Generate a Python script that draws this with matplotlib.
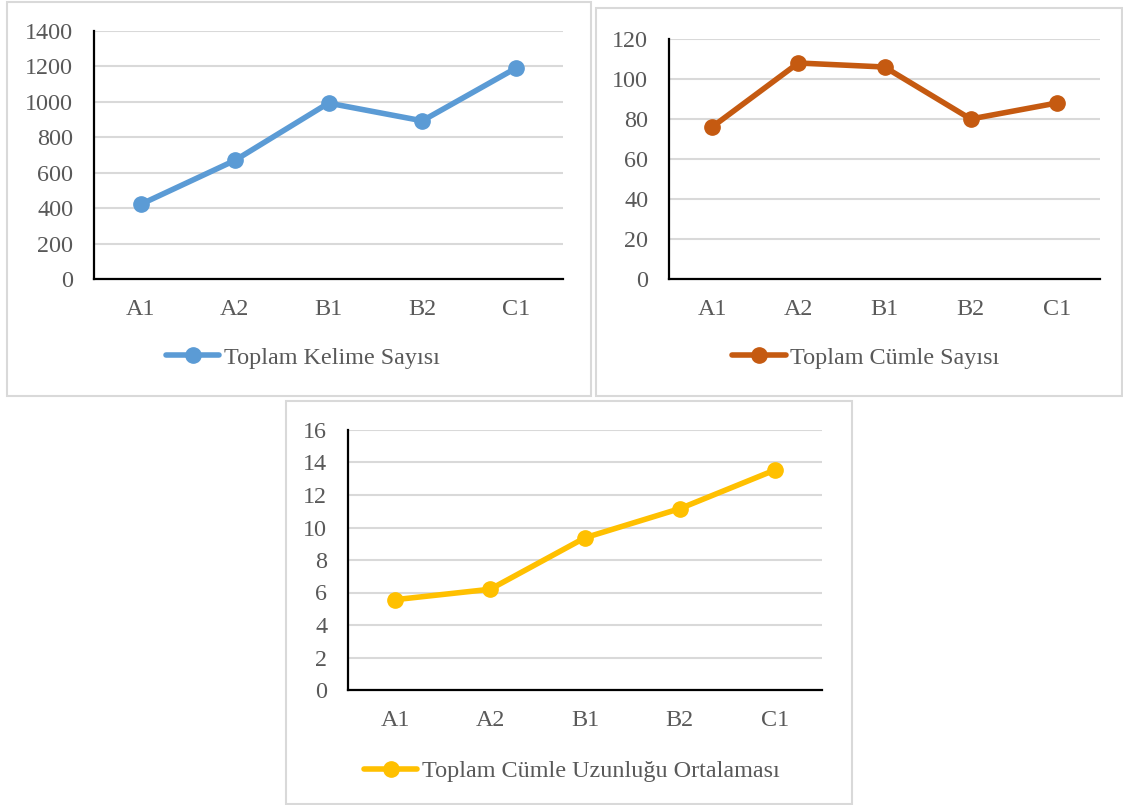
import matplotlib
matplotlib.use("Agg")
import matplotlib.pyplot as plt
from matplotlib.patches import Rectangle

plt.rcParams['font.family'] = ['Liberation Serif', 'DejaVu Serif']

levels = ["A1", "A2", "B1", "B2", "C1"]
word_counts = [422, 669, 993, 893, 1191]
sentence_counts = [76, 108, 106, 80, 88]
avg_sentence_length = [5.56, 6.2, 9.37, 11.16, 13.53]

W, H = 1123, 805
fig = plt.figure(figsize=(W / 100, H / 100), dpi=100)

TEXT = "#595959"
GRID = "#D9D9D9"
FS = 17.4


def px_axes(l, t, r, b):
    return fig.add_axes([l / W, 1 - b / H, (r - l) / W, (b - t) / H])


def frame(l, t, r, b):
    fig.patches.append(Rectangle((l / W, 1 - b / H), (r - l) / W, (b - t) / H,
                                 transform=fig.transFigure, fill=False,
                                 edgecolor=GRID, linewidth=1.5, zorder=0))


def panel(box, axbox, values, ymax, step, color, label, legend_xy):
    frame(*box)
    ax = px_axes(*axbox)
    x = range(len(levels))
    ax.plot(x, values, color=color, linewidth=4.0, marker="o",
            markersize=11, solid_capstyle="round", label=label, zorder=3)
    ax.set_xlim(-0.5, len(levels) - 0.5)
    ax.set_ylim(0, ymax)
    ticks = [i * step for i in range(int(round(ymax / step)) + 1)]
    ax.set_yticks(ticks)
    ax.set_yticklabels([f"{t:g}" for t in ticks])
    ax.set_xticks(list(x))
    ax.set_xticklabels(levels)
    ax.yaxis.grid(True, color=GRID, linewidth=1.5)
    ax.set_axisbelow(True)
    for s in ("top", "right"):
        ax.spines[s].set_visible(False)
    for s in ("left", "bottom"):
        ax.spines[s].set_color("black")
        ax.spines[s].set_linewidth(1.6)
    ax.tick_params(axis="both", length=0, labelsize=FS, labelcolor=TEXT)
    ax.tick_params(axis="y", pad=15)
    ax.tick_params(axis="x", pad=14.5)
    ax.patch.set_alpha(0)
    leg = ax.legend(loc="center", bbox_to_anchor=(legend_xy[0] / W, 1 - legend_xy[1] / H),
                    bbox_transform=fig.transFigure, frameon=False, fontsize=FS,
                    handlelength=2.2, handletextpad=0.2)
    for t in leg.get_texts():
        t.set_color(TEXT)
    return ax


panel((7, 2, 591, 396), (94, 31, 563, 279), word_counts, 1400, 200,
      "#5B9BD5", "Toplam Kelime Sayısı", (303, 358))
panel((596, 8, 1122, 396), (669, 39, 1100, 279), sentence_counts, 120, 20,
      "#C55A11", "Toplam Cümle Sayısı", (866, 358))
panel((286, 401, 852, 804), (348, 430, 822, 690), avg_sentence_length, 16, 2,
      "#FFC000", "Toplam Cümle Uzunluğu Ortalaması", (572, 771))

fig.savefig("out.png", dpi=100, facecolor="white")
